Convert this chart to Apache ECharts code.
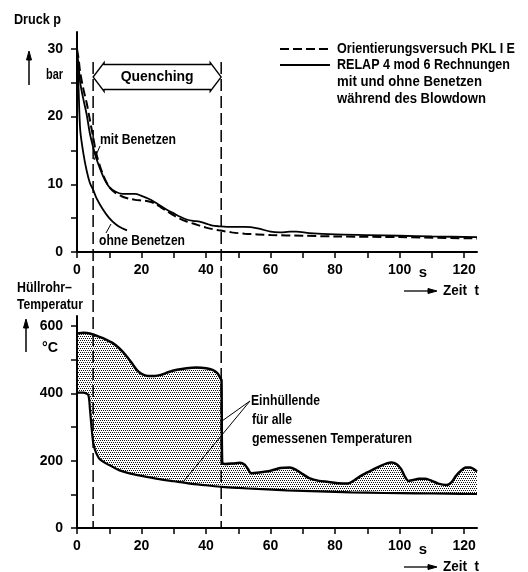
<!DOCTYPE html>
<html><head><meta charset="utf-8">
<script src="https://cdn.jsdelivr.net/npm/echarts@6/dist/echarts.min.js"></script>
<style>html,body{margin:0;padding:0;background:#fff}#c{width:528px;height:572px}</style>
</head><body><div id="c"></div>
<script>
var FONT = '"Liberation Sans", Arial, sans-serif';

// ---- Druck (top chart) ----
var tMit  = [0, 0.5, 1, 2, 3, 4, 5, 6, 8, 10, 12, 14, 16, 18, 20, 22, 24, 26, 28, 30, 32, 34, 36, 38, 40, 42, 44, 48, 52, 56, 60, 63, 66, 68, 72, 80, 90, 100, 110, 124];
var pMit  = [29.5, 27.5, 25, 22.5, 20.3, 17.5, 15.5, 13.8, 11.3, 9.6, 8.9, 8.6, 8.6, 8.6, 8.3, 7.9, 7.4, 6.8, 6.2, 5.7, 5.2, 4.8, 4.6, 4.5, 4.2, 3.9, 3.8, 3.7, 3.7, 3.5, 3.0, 2.9, 3.0, 3.0, 2.8, 2.6, 2.5, 2.4, 2.3, 2.2];
var tVers = [0, 0.5, 1, 2, 3, 4, 5, 6, 8, 10, 12, 14, 16, 18, 20, 22, 24, 26, 28, 30, 32, 34, 36, 40, 44, 48, 52, 56, 60, 70, 80, 100, 124];
var pVers = [30, 28.5, 26.5, 24, 22, 19.5, 17, 14.5, 11.5, 9.6, 8.7, 8.2, 7.9, 7.7, 7.6, 7.5, 7.2, 6.6, 6.0, 5.4, 4.9, 4.5, 4.2, 3.6, 3.2, 2.9, 2.7, 2.6, 2.5, 2.4, 2.3, 2.2, 2.0];
var tOhne = [0, 0.5, 1, 2, 3, 4, 5, 6, 8, 10, 12, 14, 15.5];
var pOhne = [30, 24, 18, 14.5, 12, 10.2, 9.2, 8.0, 6.3, 5.0, 4.1, 3.5, 3.2];

// ---- Hüllrohr-Temperatur (bottom chart) ----
var tOben = [0, 2, 4, 7, 9, 11, 13, 15, 17, 18.5, 20, 22, 24, 26, 28, 31, 34, 37, 40, 42, 43.5, 44.5, 44.8, 45, 46, 48.5, 50.5, 52, 53, 54, 56.5, 60, 63, 66, 68, 70, 72, 75, 78, 81, 84, 86, 88, 90, 92, 94, 96, 97.5, 99, 100.5, 101.5, 102.7, 104, 106, 108, 110, 112, 114.5, 116, 117.5, 119, 120.5, 122, 123, 124];
var TOben = [578, 580, 578, 568, 560, 550, 535, 515, 490, 470, 458, 452, 452, 455, 462, 470, 475, 477, 475, 470, 460, 445, 440, 195, 190, 192, 194, 188, 175, 163, 165, 170, 178, 180, 172, 160, 148, 140, 137, 133, 132, 142, 155, 165, 175, 184, 192, 195, 190, 175, 155, 140, 142, 146, 146, 140, 132, 128, 135, 155, 170, 180, 180, 175, 168];
var tUnten = [0, 2, 3.5, 4, 4.5, 5, 5.5, 6, 7, 9, 11, 13, 16, 20, 25, 30, 35, 40, 45, 50, 56, 65, 75, 85, 95, 105, 115, 124];
var TUnten = [402, 402, 395, 355, 300, 255, 235, 222, 205, 192, 182, 172, 163, 155, 146, 139, 132, 127, 122, 119, 116, 112, 109, 106, 104, 103, 102, 101];

// ---- axis ticks / labels ----
var xTicks = [0, 10, 20, 30, 40, 50, 60, 70, 80, 90, 100, 110, 120];
var xLabels = [0, 20, 40, 60, 80, 100, 120];
var pTicks = [0, 5, 10, 15, 20, 25, 30];
var pLabels = [0, 10, 20, 30];
var TTicks = [0, 100, 200, 300, 400, 500, 600];
var TLabels = [0, 200, 400, 600];
var quenchStart = 5, quenchEnd = 44.7;

function zip(a, b) { return a.map(function (v, i) { return [v, b[i]]; }); }

// stipple pattern
var pc = document.createElement('canvas'); pc.width = 4; pc.height = 4;
var cx = pc.getContext('2d');
cx.fillStyle = '#ffffff'; cx.fillRect(0, 0, 4, 4);
cx.fillStyle = '#111111';
cx.fillRect(0, 0, 1, 1); cx.fillRect(2, 0, 1, 1); cx.fillRect(1, 2, 1, 1); cx.fillRect(3, 2, 1, 1);

function xAx(gi) {
  return {
    type: 'value', gridIndex: gi, min: 0, max: 124, z: 10,
    axisLine: { show: true, onZero: false, lineStyle: { color: '#000', width: 2 } },
    axisTick: { show: true, customValues: xTicks, length: 6, lineStyle: { color: '#000', width: 1.5 } },
    axisLabel: { customValues: xLabels, margin: 11, color: '#000', fontFamily: FONT, fontSize: 14, fontWeight: 'bold' },
    splitLine: { show: false }
  };
}
function yAx(gi, max, ticks, labels) {
  return {
    type: 'value', gridIndex: gi, min: 0, max: max, z: 10,
    axisLine: { show: true, onZero: false, lineStyle: { color: '#000', width: 2 } },
    axisTick: { show: true, customValues: ticks, length: 6, lineStyle: { color: '#000', width: 1.5 } },
    axisLabel: { customValues: labels, margin: 14, color: '#000', fontFamily: FONT, fontSize: 14, fontWeight: 'bold' },
    splitLine: { show: false }
  };
}

var chart = echarts.init(document.getElementById('c'), null, { renderer: 'canvas' });
chart.setOption({
  animation: false,
  backgroundColor: '#fff',
  grid: [
    { left: 77, top: 32, width: 400, height: 220 },
    { left: 77, top: 316, width: 400, height: 212 }
  ],
  xAxis: [xAx(0), xAx(1)],
  yAxis: [yAx(0, 32.5, pTicks, pLabels), yAx(1, 630, TTicks, TLabels)],
  series: [
    { type: 'line', xAxisIndex: 0, yAxisIndex: 0, data: zip(tVers, pVers), smooth: 0.3, symbol: 'none',
      lineStyle: { color: '#000', width: 2, type: [9, 4] } },
    { type: 'line', xAxisIndex: 0, yAxisIndex: 0, data: zip(tMit, pMit), smooth: 0.3, symbol: 'none',
      lineStyle: { color: '#000', width: 1.8 } },
    { type: 'line', xAxisIndex: 0, yAxisIndex: 0, data: zip(tOhne, pOhne), smooth: 0.3, symbol: 'none',
      lineStyle: { color: '#000', width: 1.8 } },
    { type: 'line', xAxisIndex: 1, yAxisIndex: 1, data: zip(tOben, TOben), smooth: 0.25, symbol: 'none', z: 2,
      lineStyle: { color: '#000', width: 2.5 }, areaStyle: { color: { image: pc, repeat: 'repeat' }, opacity: 1 } },
    { type: 'line', xAxisIndex: 1, yAxisIndex: 1, data: zip(tUnten, TUnten), smooth: 0.25, symbol: 'none', z: 3,
      lineStyle: { color: '#000', width: 2.2 }, areaStyle: { color: '#fff', opacity: 1 } }
  ]
});

var mc = document.createElement('canvas').getContext('2d');
function T(text, x, y, target, size, align) {
  size = size || 15;
  var font = 'bold ' + size + 'px ' + FONT;
  mc.font = font;
  var w = mc.measureText(text).width;
  var s = target ? target / w : 1;
  return { type: 'text', z: 102, x: x, y: y, scaleX: s,
    style: { text: text, x: 0, y: 0, fill: '#000', font: font,
      textAlign: align || 'left', textVerticalAlign: 'middle', align: align || 'left', verticalAlign: 'middle' } };
}
function L(x1, y1, x2, y2, w, dash) {
  return { type: 'line', z: 100, shape: { x1: x1, y1: y1, x2: x2, y2: y2 },
    style: { stroke: '#000', lineWidth: w || 1.2, lineDash: dash || null } };
}
function P(pts) {
  return { type: 'polygon', z: 100, shape: { points: pts }, style: { fill: '#000', stroke: '#000', lineWidth: 1 } };
}

var xs = chart.convertToPixel({ xAxisIndex: 0 }, quenchStart);
var xe = chart.convertToPixel({ xAxisIndex: 0 }, quenchEnd);
var yBot = chart.convertToPixel({ yAxisIndex: 1 }, 0);
var g = [];
// vertical dashed lines
g.push(L(xs, 62, xs, yBot, 1.5, [12, 5]));
g.push(L(xe, 62, xe, yBot, 1.5, [12, 5]));
// Quenching arrow
var yc = 77, hw = 11;
g.push({ type: 'polygon', z: 101, shape: { points: [
  [xs, yc], [xs + hw, 62.5], [xs + hw, 64.5], [xe - hw, 64.5], [xe - hw, 62.5], [xe, yc],
  [xe - hw, 91.5], [xe - hw, 89.5], [xs + hw, 89.5], [xs + hw, 91.5]] },
  style: { fill: '#fff', stroke: '#000', lineWidth: 1.3 } });
g.push(T('Quenching', (xs + xe) / 2, yc, 73, 15, 'center'));
// axis titles
g.push(T('Druck p', 14, 20, 47));
g.push(L(29, 85, 29, 58, 1.5)); g.push(P([[29, 51], [26.5, 60], [31.5, 60]]));
g.push(T('bar', 46, 75, 17));
g.push(T('Hüllrohr–', 17, 288, 55));
g.push(T('Temperatur', 17, 305, 66));
g.push(L(26, 352, 26, 326, 1.5)); g.push(P([[26, 319], [23.5, 328], [28.5, 328]]));
g.push(T('°C', 42, 348, 16));
g.push(T('s', 423, 273, 0, 15, 'center'));
g.push(T('s', 423, 550, 0, 15, 'center'));
g.push(L(404, 291, 429, 291, 1.3)); g.push(P([[437, 291], [428, 288.5], [428, 293.5]]));
g.push(T('Zeit  t', 443, 291, 36));
g.push(L(404, 567, 429, 567, 1.3)); g.push(P([[437, 567], [428, 564.5], [428, 569.5]]));
g.push(T('Zeit  t', 443, 567, 36));
// legend
g.push(L(280, 49, 330, 49, 1.8, [9, 4]));
g.push(T('Orientierungsversuch PKL I E', 337, 49, 178, 14));
g.push(L(280, 65, 330, 65, 1.8));
g.push(T('RELAP 4 mod 6 Rechnungen', 337, 65, 173, 14));
g.push(T('mit und ohne Benetzen', 337, 82, 145, 14));
g.push(T('während des Blowdown', 337, 99, 149, 14));
// curve labels
g.push(T('mit Benetzen', 100, 140, 76));
g.push(L(100, 146, 94, 160, 1));
g.push(T('ohne Benetzen', 99, 241, 86));
g.push(L(106, 233, 111, 224, 1));
// envelope annotation
g.push(T('Einhüllende', 251, 401, 69));
g.push(T('für alle', 252, 420, 40));
g.push(T('gemessenen Temperaturen', 252, 439, 160));
g.push(L(250, 401, 222, 421, 1));
g.push(L(250, 401, 183, 482, 1));
chart.setOption({ graphic: { elements: g } });
</script>
</body></html>
